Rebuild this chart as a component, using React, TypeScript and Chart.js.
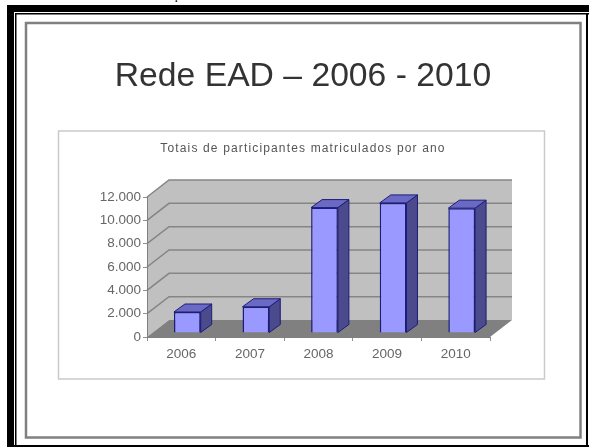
import React, { useEffect, useRef } from "react";
import { Chart, registerables } from "chart.js";

Chart.register(...registerables);

const years = ["2006", "2007", "2008", "2009", "2010"];
const participants = [1800, 2250, 10750, 11150, 10700];
const axisMax = 12000;
const axisStep = 2000;
const slideTitle = "Rede EAD – 2006 - 2010";
const chartTitle = "Totais de participantes matriculados por ano";
const clippedCaption = "ç";

const FONT = '"Liberation Sans", Arial, sans-serif';
const WALL = "#c0c0c0";
const FLOOR = "#808080";
const GRID = "#858585";
const BAR_TOP = "#6a6ac4";
const BAR_SIDE = "#4a4a8c";
const BAR_EDGE = "#1c1c7c";

// Depth of the floor and walls, and of the bars standing in the middle of it.
const WALL_DX = 22;
const WALL_DY = -17;
const BAR_SHIFT_X = 6;
const BAR_SHIFT_Y = -4;
const BAR_DX = 11;
const BAR_DY = -8;

function poly(ctx: CanvasRenderingContext2D, pts: number[][], fill: string, stroke?: string) {
  ctx.beginPath();
  pts.forEach(([x, y], i) => (i ? ctx.lineTo(x, y) : ctx.moveTo(x, y)));
  ctx.closePath();
  ctx.fillStyle = fill;
  ctx.fill();
  if (stroke) {
    ctx.strokeStyle = stroke;
    ctx.lineWidth = 1;
    ctx.stroke();
  }
}

// Slide frame, headings and the walls of the 3D plot, all behind the axes.
const slideBackdrop = {
  id: "slideBackdrop",
  beforeDraw(chart: any) {
    const { ctx, width, height, chartArea: a, scales } = chart;
    ctx.save();
    ctx.fillStyle = "#ffffff";
    ctx.fillRect(0, 0, width, height);

    ctx.fillStyle = "#000000";
    ctx.font = `bold 11px "Liberation Serif", serif`;
    ctx.textAlign = "center";
    ctx.textBaseline = "alphabetic";
    ctx.fillText(clippedCaption, 176, 0);

    // Heavy rule on the top and left, thin rule all the way round inside it.
    ctx.fillRect(7, 5, width - 7, 7);
    ctx.fillRect(7, 5, 7, height - 5);
    ctx.fillRect(15, 13, width - 15, 1.5);
    ctx.fillRect(15, 13, 1.5, height - 13);
    ctx.fillRect(586, 13, 2, height - 13);
    ctx.fillRect(7, 445, width - 7, 2);

    ctx.strokeStyle = "#808080";
    ctx.lineWidth = 2.5;
    ctx.strokeRect(26, 23, 554.5, 414.5);
    ctx.strokeStyle = "#cacaca";
    ctx.lineWidth = 1.5;
    ctx.strokeRect(58.5, 131, 486, 248);

    ctx.fillStyle = "#333333";
    ctx.font = `33.7px ${FONT}`;
    ctx.fillText(slideTitle, 303, 86);
    ctx.fillStyle = "#555555";
    ctx.font = `12px ${FONT}`;
    (ctx as any).letterSpacing = "1.15px";
    ctx.fillText(chartTitle, 303, 152);
    (ctx as any).letterSpacing = "0px";

    const y = scales.y;
    const bottom = y.getPixelForValue(0);
    const top = y.getPixelForValue(axisMax);
    poly(ctx, [[a.left, top], [a.left + WALL_DX, top + WALL_DY], [a.left + WALL_DX, bottom + WALL_DY], [a.left, bottom]], WALL);
    poly(ctx, [[a.left + WALL_DX, top + WALL_DY], [a.right + WALL_DX, top + WALL_DY], [a.right + WALL_DX, bottom + WALL_DY], [a.left + WALL_DX, bottom + WALL_DY]], WALL);
    poly(ctx, [[a.left, bottom], [a.right, bottom], [a.right + WALL_DX, bottom + WALL_DY], [a.left + WALL_DX, bottom + WALL_DY]], FLOOR);

    ctx.strokeStyle = GRID;
    ctx.lineWidth = 1.5;
    for (let v = axisStep; v <= axisMax; v += axisStep) {
      const py = y.getPixelForValue(v);
      ctx.beginPath();
      ctx.moveTo(a.left, py);
      ctx.lineTo(a.left + WALL_DX, py + WALL_DY);
      ctx.lineTo(a.right + WALL_DX, py + WALL_DY);
      ctx.stroke();
    }
    ctx.restore();
  },
};

// Side and top faces of each bar; the front faces are the chart's own bars.
const barDepth = {
  id: "barDepth",
  beforeDatasetsDraw(chart: any) {
    const { ctx } = chart;
    ctx.save();
    ctx.translate(BAR_SHIFT_X, BAR_SHIFT_Y);
    chart.getDatasetMeta(0).data.forEach((bar: any) => {
      const { x, y, base, width } = bar.getProps(["x", "y", "base", "width"], true);
      const l = x - width / 2;
      const r = x + width / 2;
      poly(ctx, [[r, y], [r + BAR_DX, y + BAR_DY], [r + BAR_DX, base + BAR_DY], [r, base]], BAR_SIDE, BAR_EDGE);
      poly(ctx, [[l, y], [l + BAR_DX, y + BAR_DY], [r + BAR_DX, y + BAR_DY], [r, y]], BAR_TOP, BAR_EDGE);
    });
  },
  afterDatasetsDraw(chart: any) {
    chart.ctx.restore();
  },
};

export default function App() {
  const ref = useRef<HTMLCanvasElement>(null);

  useEffect(() => {
    const chart = new Chart(ref.current!, {
      type: "bar",
      data: {
        labels: years,
        datasets: [
          {
            data: participants,
            backgroundColor: "#9999ff",
            borderColor: BAR_EDGE,
            borderWidth: 1.5,
            barPercentage: 0.39,
            categoryPercentage: 1,
            clip: false,
          } as any,
        ],
      },
      plugins: [slideBackdrop, barDepth],
      options: {
        responsive: false,
        animation: false,
        layout: { padding: { left: 0, top: 197, right: 99, bottom: 0 } },
        plugins: { legend: { display: false }, tooltip: { enabled: false }, title: { display: false } },
        scales: {
          x: {
            afterFit: (s: any) => {
              s.height = 110;
            },
            grid: { drawOnChartArea: false, tickLength: 4, color: "#909090" },
            border: { color: "#808080" },
            ticks: {
              color: "#666666",
              font: { family: FONT, size: 13.5 },
              padding: 5,
              maxRotation: 0,
            },
          },
          y: {
            min: 0,
            max: axisMax,
            afterFit: (s: any) => {
              s.width = 147;
            },
            grid: { drawOnChartArea: false, tickLength: 4, color: "#909090" },
            border: { color: "#808080" },
            ticks: {
              stepSize: axisStep,
              color: "#666666",
              font: { family: FONT, size: 13.5 },
              padding: 2,
              callback: (v: any) => Number(v).toLocaleString("de-DE"),
            },
          },
        },
      },
    });
    return () => chart.destroy();
  }, []);

  return (
    <canvas
      ref={ref}
      width={589}
      height={447}
      style={{ position: "absolute", left: 0, top: 0, width: 589, height: 447 }}
    />
  );
}
